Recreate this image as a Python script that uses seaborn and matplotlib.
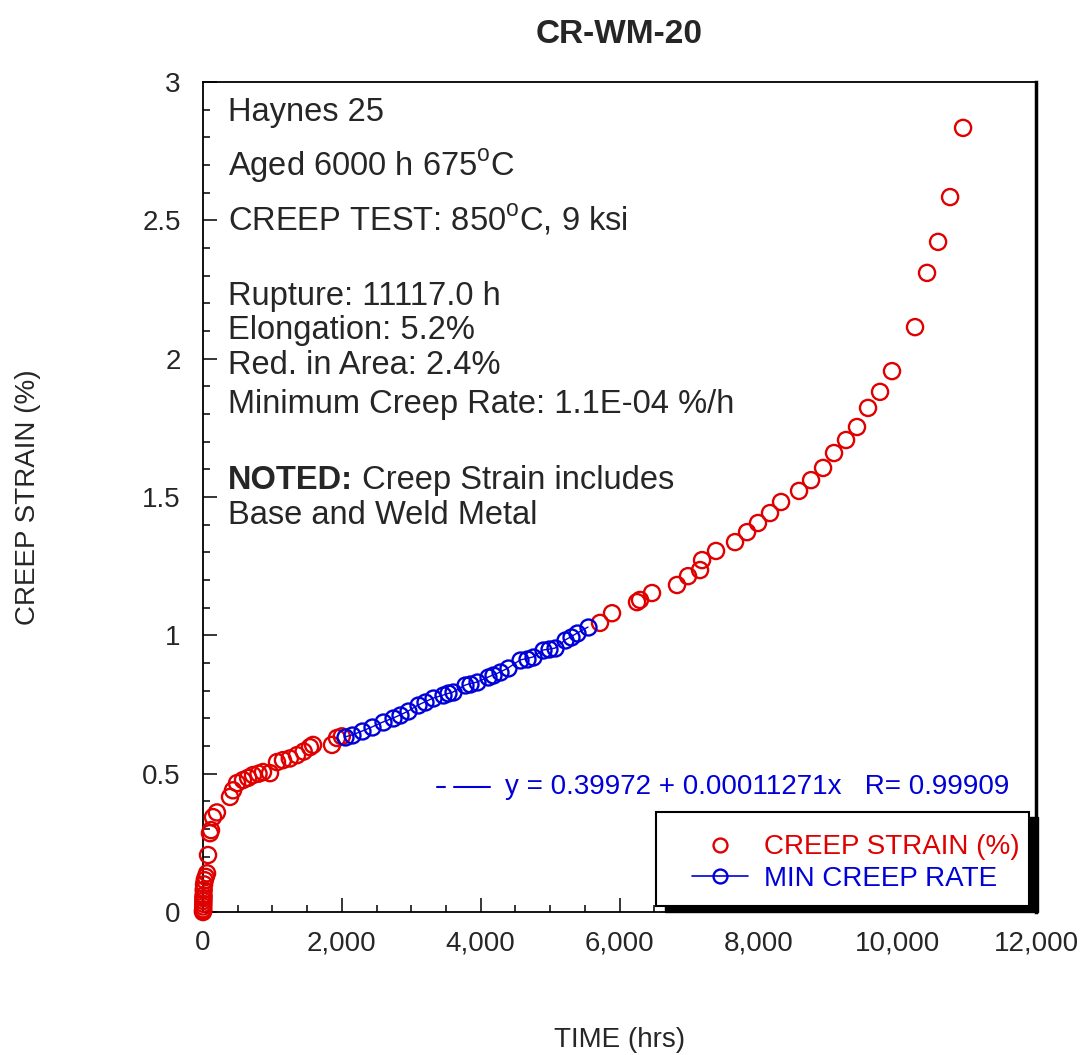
# creep curve CR-WM-20 with min creep rate fit region
import numpy as np
import matplotlib
matplotlib.use("Agg")
import matplotlib.pyplot as plt
import seaborn as sns
from matplotlib.lines import Line2D
from matplotlib.patches import Rectangle
from matplotlib.ticker import MultipleLocator, StrMethodFormatter

# creep strain points (red), hours / %
strain_time = [0, 0, 2, 3, 4, 5, 6, 8, 10, 15, 25, 40, 58, 72, 100, 115, 144, 200,
               389, 432, 490, 576, 650, 720, 800, 864, 965, 1066, 1152, 1250, 1354,
               1450, 1541, 1585, 1858, 1930, 2000,
               5719, 5892, 6252, 6295, 6468, 6828, 6987, 7160, 7189, 7390, 7664,
               7837, 7995, 8168, 8327, 8586, 8759, 8932, 9090, 9263, 9421, 9580,
               9753, 9925, 10257, 10430, 10589, 10762, 10949]
strain_pct = [0.0, 0.005, 0.01, 0.02, 0.03, 0.04, 0.05, 0.06, 0.08, 0.10, 0.115, 0.127,
              0.14, 0.206, 0.285, 0.296, 0.343, 0.36,
              0.416, 0.44, 0.466, 0.477, 0.485, 0.495, 0.50, 0.506, 0.502, 0.542, 0.549,
              0.555, 0.567, 0.58, 0.596, 0.604, 0.604, 0.629, 0.635,
              1.045, 1.08, 1.12, 1.128, 1.153, 1.182, 1.214, 1.236, 1.272, 1.305, 1.337,
              1.373, 1.406, 1.442, 1.482, 1.522, 1.561, 1.605, 1.659, 1.706, 1.753, 1.822,
              1.88, 1.955, 2.114, 2.31, 2.422, 2.584, 2.834]

# min creep rate region (blue)
rate_time = [2046, 2146, 2291, 2435, 2593, 2737, 2838, 2953, 3097, 3200, 3313, 3457,
             3530, 3601, 3774, 3850, 3947, 4106, 4180, 4279, 4394, 4567, 4660, 4754,
             4898, 4980, 5071, 5215, 5300, 5388, 5546]
rate_pct = [0.633, 0.640, 0.654, 0.669, 0.687, 0.701, 0.712, 0.726, 0.748, 0.760, 0.773,
            0.784, 0.790, 0.795, 0.820, 0.826, 0.831, 0.849, 0.857, 0.867, 0.882, 0.911,
            0.916, 0.922, 0.947, 0.950, 0.954, 0.983, 0.995, 1.008, 1.030]

info_lines = ["Haynes 25",
              "Aged 6000 h 675$^\\mathregular{o}$C",
              "CREEP TEST: 850$^\\mathregular{o}$C, 9 ksi",
              "Rupture: 11117.0 h",
              "Elongation: 5.2%",
              "Red. in Area: 2.4%",
              "Minimum Creep Rate: 1.1E-04 %/h"]
info_y = [0.963, 0.898, 0.834, 0.742, 0.701, 0.658, 0.611]

red = "#e00000"
blue = "#0000d8"

sns.set_style("white")
plt.rcParams["font.family"] = ["Liberation Sans", "DejaVu Sans"]
plt.rcParams["mathtext.fontset"] = "custom"

fig = plt.figure(figsize=(10.81, 10.55), dpi=100)
ax = fig.add_axes([0.1878, 0.1355, 0.7706, 0.7868])

sns.scatterplot(x=strain_time, y=strain_pct, ax=ax, marker="o", s=135,
                facecolor="none", edgecolor=red, linewidth=1.7, clip_on=False, zorder=3)
sns.lineplot(x=rate_time, y=rate_pct, ax=ax, color=blue, linewidth=1.0,
             marker="o", markersize=11.5, markerfacecolor="none",
             markeredgecolor=blue, markeredgewidth=1.7, estimator=None, sort=True, zorder=4)

ax.set_xlim(0, 12000)
ax.set_ylim(0, 3)
ax.xaxis.set_major_locator(MultipleLocator(2000))
ax.xaxis.set_minor_locator(MultipleLocator(500))
ax.yaxis.set_major_locator(MultipleLocator(0.5))
ax.yaxis.set_minor_locator(MultipleLocator(0.1))
ax.xaxis.set_major_formatter(StrMethodFormatter("{x:,.0f}"))
ax.yaxis.set_major_formatter(StrMethodFormatter("{x:g}"))
ax.tick_params(which="major", direction="in", length=10, width=1.3, labelsize=20,
               bottom=True, left=True, top=False, right=False)
ax.tick_params(axis="x", which="major", pad=13)
ax.tick_params(axis="y", which="major", pad=16)
ax.tick_params(which="minor", direction="in", length=5, width=1.3,
               bottom=True, left=True, top=False, right=False)
for s in ax.spines.values():
    s.set_color("black")
    s.set_linewidth(1.3)
ax.spines["right"].set_linewidth(2.5)

ax.set_xlabel("TIME (hrs)", fontsize=20)
ax.set_ylabel("CREEP STRAIN (%)", fontsize=20)
ax.xaxis.set_label_coords(0.5, -0.139)
ax.yaxis.set_label_coords(-0.194, 0.5)
ax.set_title("CR-WM-20", fontsize=24, fontweight="bold", pad=28)

for txt, yy in zip(info_lines, info_y):
    ax.text(0.030, yy, txt, transform=ax.transAxes, fontsize=23.5, va="center", ha="left")
noted = ax.text(0.030, 0.520, "NOTED:", transform=ax.transAxes, fontsize=23.5,
                fontweight="bold", va="center", ha="left")
ax.annotate(" Creep Strain includes", xy=(1, 0.5), xycoords=noted, fontsize=23.5,
            va="center", ha="left")
ax.text(0.030, 0.478, "Base and Weld Metal", transform=ax.transAxes,
        fontsize=23.5, va="center", ha="left")

# regression line label
ax.plot([0.281, 0.290], [0.151, 0.151], transform=ax.transAxes, color=blue, lw=1.5)
ax.plot([0.301, 0.345], [0.151, 0.151], transform=ax.transAxes, color=blue, lw=1.5)
ax.text(0.362, 0.151, "y = 0.39972 + 0.00011271x   R= 0.99909", transform=ax.transAxes,
        fontsize=20, color=blue, va="center", ha="left")

# legend box with hard shadow
ax.add_patch(Rectangle((0.555, 0.0), 0.447, 0.114, transform=ax.transAxes,
                       facecolor="black", edgecolor="black", clip_on=False, zorder=5))
ax.add_patch(Rectangle((0.544, 0.007), 0.447, 0.114, transform=ax.transAxes,
                       facecolor="white", edgecolor="black", lw=1.5, clip_on=False, zorder=5.1))
handles = [Line2D([], [], ls="none", marker="o", markersize=10, markerfacecolor="none",
                  markeredgecolor=red, markeredgewidth=1.7),
           Line2D([], [], color=blue, lw=1.2, marker="o", markersize=10,
                  markerfacecolor="none", markeredgecolor=blue, markeredgewidth=1.7)]
leg = ax.legend(handles, ["CREEP STRAIN (%)", "MIN CREEP RATE"],
                loc="center left", bbox_to_anchor=(0.587, 0.059),
                fontsize=20, frameon=False, borderpad=0, borderaxespad=0,
                handlelength=2.0, handletextpad=0.6, labelspacing=0.2,
                labelcolor=[red, blue])
leg.set_zorder(6)

fig.savefig("out.png", dpi=100)
plt.close()
